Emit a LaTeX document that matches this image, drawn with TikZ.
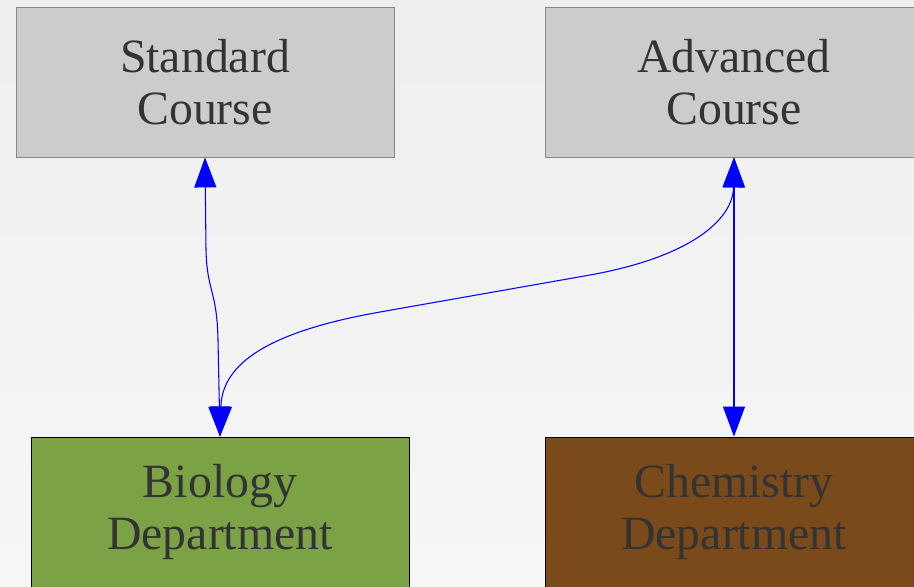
\documentclass[tikz,border=0pt]{standalone}
\usepackage{fontspec}
\setmainfont{Liberation Serif}
\usetikzlibrary{arrows.meta}
\definecolor{coursefill}{HTML}{CCCCCC}
\definecolor{courseline}{HTML}{888888}
\definecolor{biofill}{HTML}{7BA346}
\definecolor{chemfill}{HTML}{7B4A1A}
\definecolor{labeltext}{HTML}{333333}
\begin{document}
\begin{tikzpicture}[x=0.02cm,y=-0.02cm,
    box/.style={minimum width=7.56cm,minimum height=3cm,inner sep=0pt,
      align=center,text=labeltext,line width=0.5pt,
      font=\fontsize{27.2pt}{29.5pt}\selectfont},
    course/.style={box,draw=courseline,fill=coursefill},
    dept/.style={box,draw=black,fill=#1},
    link/.style={blue,line width=0.6pt,
      {Triangle[length=0.6cm,width=0.44cm]}-{Triangle[length=0.6cm,width=0.44cm]}}]
    \useasboundingbox (0,0) rectangle (914,586);
    \clip (0,0) rectangle (914,586);
    \shade[top color=gray!13,bottom color=gray!7] (0,0) rectangle (914,586);
    % courses
    \node[course] (standard) at (205,82) {Standard\\Course};
    \node[course] (advanced) at (734,82) {Advanced\\Course};
    % departments
    \node[dept=biofill] (biology) at (220,512) {Biology\\Department};
    \node[dept=chemfill] (chemistry) at (734,512) {Chemistry\\Department};
    % links
    \draw[link] (standard.south) -- (206,250) .. controls (207,292) and (217,290) .. (218,340) -- (biology.north);
    \draw[link] (advanced.south) .. controls (733,220) and (690,257) .. (590,275)
      -- (380,312) .. controls (255,334) and (222,370) .. (biology.north);
    \draw[link] (advanced.south) -- (chemistry.north);
\end{tikzpicture}
\end{document}
